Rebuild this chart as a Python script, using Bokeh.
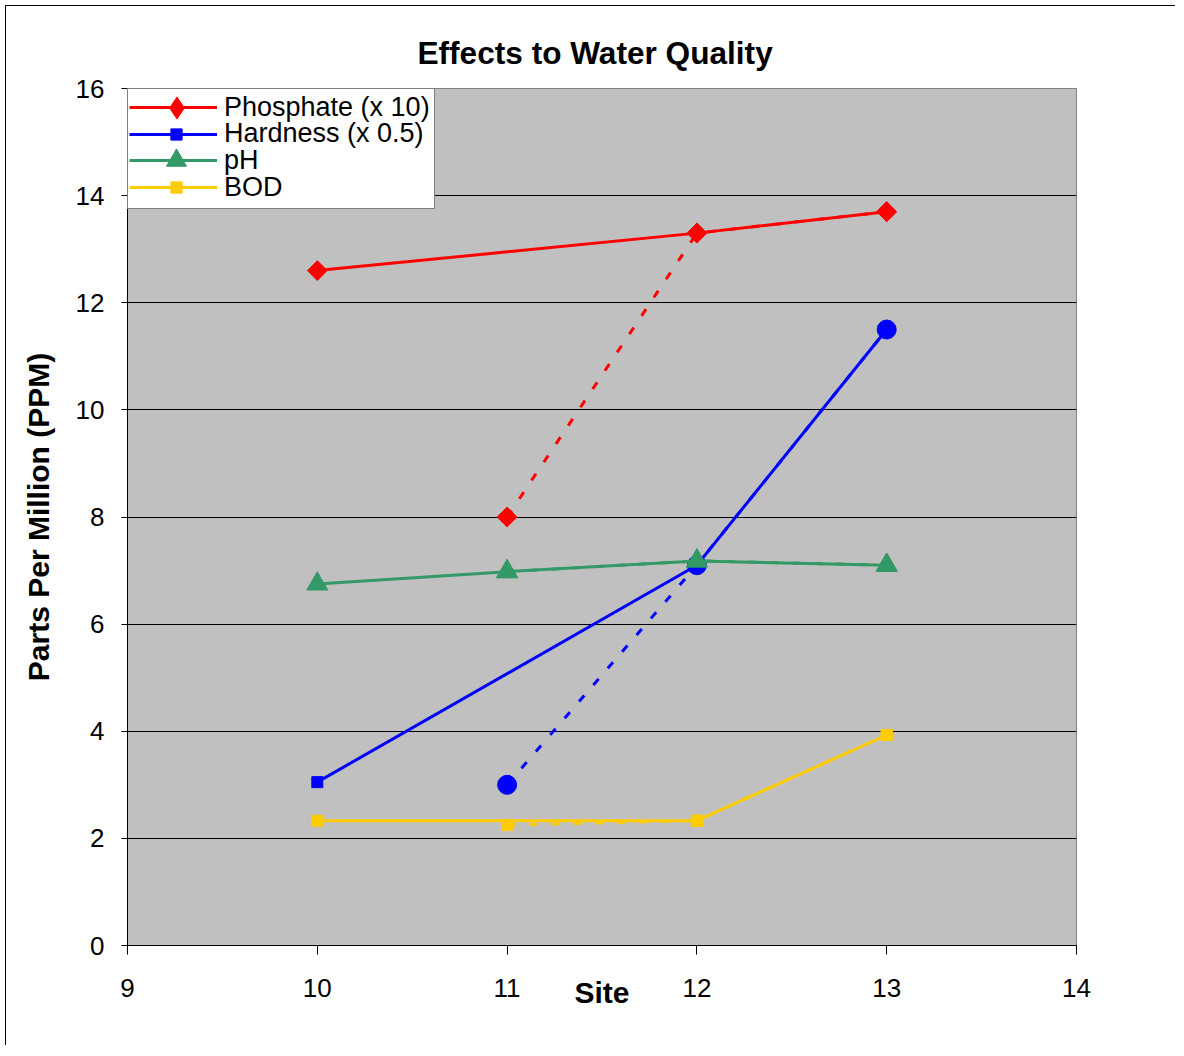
from bokeh.plotting import figure
from bokeh.models import Legend, LegendItem, FixedTicker, Range1d
from bokeh.embed import file_html
from bokeh.resources import INLINE

# ---- data ----
x_ticks = [9, 10, 11, 12, 13, 14]
y_ticks = [0, 2, 4, 6, 8, 10, 12, 14, 16]

phos_sites = [10, 12, 13]
phos_ppm = [12.6, 13.3, 13.7]
phos2_sites = [11, 12, 13]
phos2_ppm = [8.0, 13.3, 13.7]

hard_sites = [10, 12, 13]
hard_ppm = [3.05, 7.1, 11.5]
hard2_sites = [11, 12, 13]
hard2_ppm = [3.0, 7.1, 11.5]

ph_sites = [10, 11, 12, 13]
ph_vals = [6.75, 6.98, 7.18, 7.1]
ph2_sites = [11, 12, 13]
ph2_vals = [6.98, 7.18, 7.1]

bod_sites = [10, 12, 13]
bod_ppm = [2.33, 2.33, 3.93]
bod2_sites = [11, 12, 13]
bod2_ppm = [2.25, 2.33, 3.93]

labels = ["Phosphate (x 10)", "Hardness (x 0.5)", "pH", "BOD"]

RED = "#FF0000"
BLUE = "#0000FF"
GREEN = "#339966"
YELLOW = "#FFCC00"
FONT = "Liberation Sans"
DASH = "8 14"

FRAME_H = 857
p = figure(width=1170, height=1040, output_backend="svg", toolbar_location=None,
           x_range=Range1d(9, 14), y_range=Range1d(0, 16),
           min_border_left=121, min_border_top=82, min_border_right=100,
           min_border_bottom=101, title="Effects to Water Quality")
p.styles = {"border-left": "1px solid black", "border-top": "1px solid black",
            "margin-left": "5px", "margin-top": "5px"}

p.title.text_font = FONT
p.title.text_font_style = "bold"
p.title.text_font_size = "31.6px"
p.title.text_color = "black"
p.title.align = "left"
p.title.offset = 290
p.title.standoff = 36

p.background_fill_color = "#C0C0C0"
p.border_fill_color = "white"
p.outline_line_color = "#808080"
p.outline_line_width = 1

p.xgrid.visible = False
p.ygrid.grid_line_color = "black"
p.ygrid.grid_line_alpha = 1.0
p.ygrid.grid_line_width = 1

p.xaxis.ticker = FixedTicker(ticks=x_ticks)
p.yaxis.ticker = FixedTicker(ticks=y_ticks)
for ax in (p.xaxis[0], p.yaxis[0]):
    ax.major_label_text_font = FONT
    ax.major_label_text_font_size = "26px"
    ax.major_label_text_color = "black"
    ax.axis_line_color = "black"
    ax.major_tick_line_color = "black"
    ax.major_tick_in = 0
    ax.minor_tick_in = 0
    ax.minor_tick_out = 0
    ax.axis_label_text_font = FONT
    ax.axis_label_text_font_style = "bold"
    ax.axis_label_text_font_size = "30px"
    ax.axis_label_text_color = "black"

p.xaxis.major_tick_out = 9
p.xaxis.major_label_standoff = 24
p.xaxis.axis_label = "Site"
p.xaxis.axis_label_standoff = -24

p.yaxis.major_tick_out = 6
p.yaxis.major_label_standoff = 17
p.yaxis.axis_label = "Parts Per Million (PPM)"
p.yaxis.axis_label_standoff = 18

# Phosphate
l1 = p.line(phos_sites, phos_ppm, line_color=RED, line_width=3)
p.scatter(phos_sites, phos_ppm, marker="square", angle=0.7854, size=14,
          fill_color=RED, line_color=RED)
p.line(phos2_sites, phos2_ppm, line_color=RED, line_width=3, line_dash=DASH)
p.scatter(phos2_sites, phos2_ppm, marker="square", angle=0.7854, size=14,
          fill_color=RED, line_color=RED)
m1 = p.scatter(phos_sites, phos_ppm, marker="diamond", size=22,
               fill_color=RED, line_color=RED, visible=False)

# Hardness
l2 = p.line(hard_sites, hard_ppm, line_color=BLUE, line_width=3)
m2 = p.scatter(hard_sites, hard_ppm, marker="square", size=11,
               fill_color=BLUE, line_color=BLUE)
p.line(hard2_sites, hard2_ppm, line_color=BLUE, line_width=3, line_dash=DASH)
p.scatter(hard2_sites, hard2_ppm, marker="circle", size=19,
          fill_color=BLUE, line_color=BLUE)

# pH
l3 = p.line(ph_sites, ph_vals, line_color=GREEN, line_width=3)
m3 = p.scatter(ph_sites, ph_vals, marker="triangle", size=21,
               fill_color=GREEN, line_color=GREEN)
p.line(ph2_sites, ph2_vals, line_color=GREEN, line_width=3, line_dash=DASH)
p.scatter(ph2_sites, ph2_vals, marker="triangle", size=21,
          fill_color=GREEN, line_color=GREEN)

# BOD
l4 = p.line(bod_sites, bod_ppm, line_color=YELLOW, line_width=3)
m4 = p.scatter(bod_sites, bod_ppm, marker="square", size=11,
               fill_color=YELLOW, line_color=YELLOW)
p.line(bod2_sites, bod2_ppm, line_color=YELLOW, line_width=3, line_dash=DASH)
p.scatter(bod2_sites, bod2_ppm, marker="square", size=11,
          fill_color=YELLOW, line_color=YELLOW)

# invisible helper renderer: legend box without glyph
ghost = p.line(phos_sites, phos_ppm, line_alpha=0, visible=False)

ROW = 34
PAD = 2
PITCH = 26.7
FIRST = 19
GW = 88
common = dict(margin=0, label_standoff=7, label_text_font=FONT,
              label_text_font_size="27px", label_text_color="black")

# legend box (white, black border)
box = Legend(items=[LegendItem(label=" ", renderers=[ghost])],
             location="top_left", margin=0, padding=PAD, spacing=0,
             label_height=115, glyph_height=115, glyph_width=282,
             label_standoff=0, label_text_font_size="1px",
             border_line_color="black", border_line_width=1,
             background_fill_color="white", background_fill_alpha=1.0)
p.add_layout(box)

# legend rows: line + label
for k, (rend, lab) in enumerate(zip([l1, l2, l3, l4], labels)):
    cy = FIRST + k * PITCH
    h = 2 * PAD + ROW
    row = Legend(items=[LegendItem(label=lab, renderers=[rend])],
                 location=(0, FRAME_H - (cy - h / 2) - h),
                 padding=PAD, spacing=0, label_height=ROW, glyph_height=ROW,
                 glyph_width=GW, border_line_alpha=0, background_fill_alpha=0,
                 **common)
    p.add_layout(row)

# legend markers (one small legend each, so each marker gets its own size)
GLYPH_X = 49
for k, (rend, g) in enumerate([(m1, 55), (m2, 28), (m3, 50), (m4, 28)]):
    cy = FIRST + k * PITCH
    mk = Legend(items=[LegendItem(label=" ", renderers=[rend])],
                location=(GLYPH_X - g / 2, FRAME_H - cy - g / 2),
                margin=0, padding=0, spacing=0, label_height=g, glyph_height=g,
                glyph_width=g, label_standoff=0, label_text_font_size="1px",
                border_line_alpha=0, background_fill_alpha=0)
    p.add_layout(mk)

open("out.html", "w").write(file_html(p, INLINE))
